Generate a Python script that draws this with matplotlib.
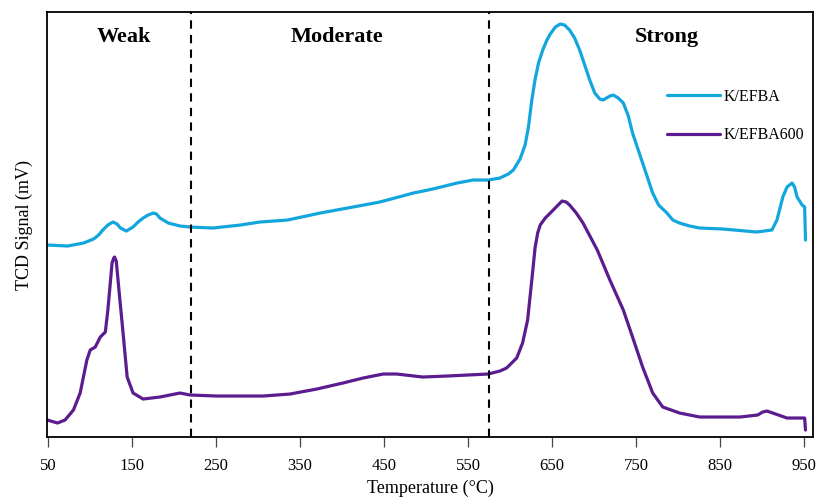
import matplotlib
matplotlib.use("Agg")
import matplotlib.pyplot as plt

plt.rcParams['font.family'] = ['Liberation Serif', 'DejaVu Serif']

# Temperature (°C) and TCD signal (mV) for the K/EFBA catalyst
t_efba = [49, 73, 92, 104, 110, 115, 121, 127, 132, 136, 143, 151, 157, 163, 169,
          175, 179, 183, 193, 207, 219, 246, 279, 302, 335, 374, 413, 445, 485,
          508, 537, 556, 574, 588, 598, 604, 612, 618, 622, 626, 630, 634, 639,
          644, 648, 654, 660, 665, 671, 677, 683, 689, 695, 701, 707, 711, 715,
          719, 723, 729, 735, 741, 746, 752, 758, 764, 770, 777, 787, 794, 802,
          814, 826, 854, 894, 912, 918, 925, 930, 936, 939, 942, 948, 951, 952]
s_efba = [1.92, 1.91, 1.94, 1.98, 2.02, 2.07, 2.12, 2.15, 2.13, 2.09, 2.06, 2.10,
          2.15, 2.19, 2.22, 2.24, 2.23, 2.19, 2.14, 2.11, 2.10, 2.09, 2.12, 2.15,
          2.17, 2.24, 2.30, 2.35, 2.44, 2.48, 2.54, 2.57, 2.57, 2.59, 2.63, 2.67,
          2.78, 2.92, 3.10, 3.37, 3.58, 3.74, 3.87, 3.97, 4.03, 4.10, 4.13, 4.12,
          4.07, 3.99, 3.87, 3.72, 3.57, 3.44, 3.38, 3.37, 3.39, 3.41, 3.42, 3.39,
          3.34, 3.21, 3.04, 2.89, 2.74, 2.59, 2.44, 2.32, 2.24, 2.17, 2.14, 2.11,
          2.09, 2.08, 2.05, 2.07, 2.17, 2.40, 2.50, 2.54, 2.50, 2.40, 2.32, 2.30,
          1.97]

# Temperature (°C) and TCD signal (mV) for the K/EFBA600 catalyst
t_efba600 = [49, 61, 70, 80, 88, 96, 100, 106, 112, 118, 121, 124, 126, 128, 129,
             131, 132, 135, 138, 144, 151, 163, 183, 207, 219, 251, 306, 338, 370,
             401, 425, 449, 465, 496, 525, 574, 588, 596, 608, 615, 621, 626, 630,
             633, 636, 642, 648, 655, 662, 667, 671, 679, 687, 704, 719, 735, 746,
             758, 770, 782, 802, 826, 874, 895, 901, 906, 913, 930, 951, 952]
s_efba600 = [0.17, 0.14, 0.17, 0.27, 0.44, 0.77, 0.87, 0.90, 1.00, 1.05, 1.27,
             1.55, 1.74, 1.79, 1.80, 1.76, 1.67, 1.40, 1.14, 0.60, 0.44, 0.38,
             0.40, 0.44, 0.42, 0.41, 0.41, 0.43, 0.48, 0.54, 0.59, 0.63, 0.63,
             0.60, 0.61, 0.63, 0.66, 0.69, 0.79, 0.94, 1.17, 1.57, 1.90, 2.04,
             2.12, 2.19, 2.24, 2.30, 2.36, 2.35, 2.32, 2.24, 2.14, 1.87, 1.57, 1.27,
             1.00, 0.70, 0.44, 0.30, 0.24, 0.20, 0.20, 0.22, 0.25, 0.26, 0.24, 0.19,
             0.19, 0.07]

region_bounds = [220, 575]
region_names = ["Weak", "Moderate", "Strong"]
region_centres = [140, 394, 787]
xticks = list(range(50, 951, 100))

fig = plt.figure(figsize=(8.23, 5.01), dpi=100)
ax = fig.add_axes([0.0571, 0.1277, 0.9308, 0.8483])

ax.plot(t_efba, s_efba, color="#12A6DD", lw=2.3, label="K/EFBA",
        solid_joinstyle="round", solid_capstyle="round")
ax.plot(t_efba600, s_efba600, color="#5A1C8E", lw=2.3, label="K/EFBA600",
        solid_joinstyle="round", solid_capstyle="round")

for b in region_bounds:
    ax.axvline(b, color="black", lw=1.5, ls=(0, (4, 3)))

for name, xc in zip(region_names, region_centres):
    ax.text(xc, 4.0, name, ha="center", va="center", fontsize=16,
            fontweight="bold")

ax.set_xlim(48.5, 961)
ax.set_ylim(0, 4.25)
ax.set_xticks(xticks)
ax.set_yticks([])
ax.tick_params(axis="x", direction="out", length=7, width=0.9,
               colors="#444444", labelcolor="black", labelsize=12, pad=8)
for sp in ax.spines.values():
    sp.set_linewidth(1.3)
    sp.set_color("black")

ax.set_xlabel("Temperature (°C)", fontsize=13, labelpad=4)
ax.set_ylabel("TCD Signal (mV)", fontsize=13, labelpad=10)

ax.legend(loc="center left", bbox_to_anchor=(0.8104, 0.7685),
          bbox_transform=fig.transFigure, frameon=False, fontsize=11.5,
          handlelength=3.3, handletextpad=0.25, labelspacing=1.4,
          borderpad=0, borderaxespad=0)

fig.savefig("out.png", dpi=100)
